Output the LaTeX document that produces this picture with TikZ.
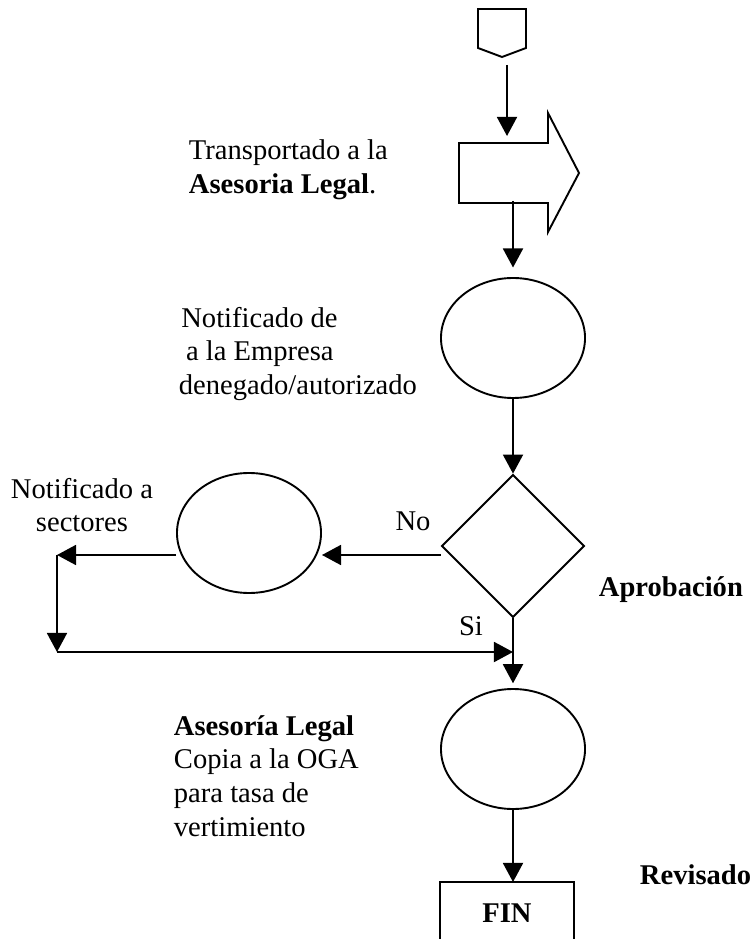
\documentclass[tikz,border=0pt]{standalone}
\usepackage{fontspec}
\setmainfont{Liberation Serif}
\usetikzlibrary{arrows.meta,shapes.geometric}

\begin{document}
\begin{tikzpicture}[x=0.42pt,y=-0.42pt,line width=0.8pt,
	flecha/.style={-{Triangle[length=8pt,width=8.4pt]}},
	circulo/.style={draw,ellipse,minimum width=60.5pt,minimum height=50.4pt,inner sep=0pt},
	rombo/.style={draw,diamond,minimum width=60pt,minimum height=60pt,inner sep=0pt},
	texto/.style={font=\fontsize{12}{14.2}\selectfont,inner sep=0pt}]
	\useasboundingbox (0,0) rectangle (753,939);
	
	%conector de inicio
	\draw (478,9) -- (526,9) -- (526,48) -- (502,57) -- (478,48) -- cycle;
	\coordinate (inicio) at (507,65);
	\coordinate (transpIn) at (507,136);
	\draw[flecha] (inicio) -- (transpIn);
	
	%transporte
	\draw (459,143) -- (548,143) -- (548,113) -- (579,173) -- (548,232) -- (548,203) -- (459,203) -- cycle;
	\coordinate (transpOut) at (513,201);
	\node[texto,anchor=west,align=left] (txtTransp) at (188,170) {Transportado a la\\\textbf{Asesoria Legal}.};
	
	%notificacion a la empresa
	\node[circulo] (notif) at (513,338) {};
	\draw[flecha,shorten >=4pt] (transpOut) -- (notif.north);
	\node[texto,anchor=west,align=left] (txtNotif) at (178,354) {\hspace*{1pt}Notificado de\\\hspace*{3pt}a la Empresa\\denegado/autorizado};
	
	%decision
	\node[rombo] (aprob) at (513,546) {};
	\draw[flecha] (notif.south) -- (aprob.north);
	\node[texto,anchor=west] (txtAprob) at (598,590) {\textbf{Aprobación}};
	
	%rama no
	\node[circulo] (sect) at (249,533) {};
	\draw[flecha] (aprob.west |- 0,555) -- (sect.east |- 0,555);
	\node[texto] (txtNo) at (413,521) {No};
	\node[texto,align=center] (txtSect) at (82,505) {Notificado a\\sectores};
	\coordinate (esqA) at (57,555);
	\coordinate (esqB) at (57,652);
	\coordinate (union) at (513,652);
	\draw[flecha] (sect.west |- esqA) -- (esqA);
	\draw[flecha] (esqA) -- (esqB);
	\draw[flecha] (esqB) -- (union);
	
	%rama si
	\node[circulo] (copia) at (513,749) {};
	\draw[flecha,shorten >=2pt] (aprob.south) -- (copia.north);
	\node[texto] (txtSi) at (471,626) {Si};
	\node[texto,anchor=west,align=left] (txtCopia) at (173,776) {\textbf{Asesoría Legal}\\Copia a la OGA\\para tasa de\\vertimiento};
	
	%fin
	\coordinate (finTop) at (513,882);
	\draw[flecha] (copia.south) -- (finTop);
	\draw (440,945) -- (440,882) -- (574,882) -- (574,945);
	\node[texto] (fin) at (507,913) {\textbf{FIN}};
	\node[texto,anchor=west] (txtRev) at (639,875) {\textbf{Revisado}};
\end{tikzpicture}
\end{document}
